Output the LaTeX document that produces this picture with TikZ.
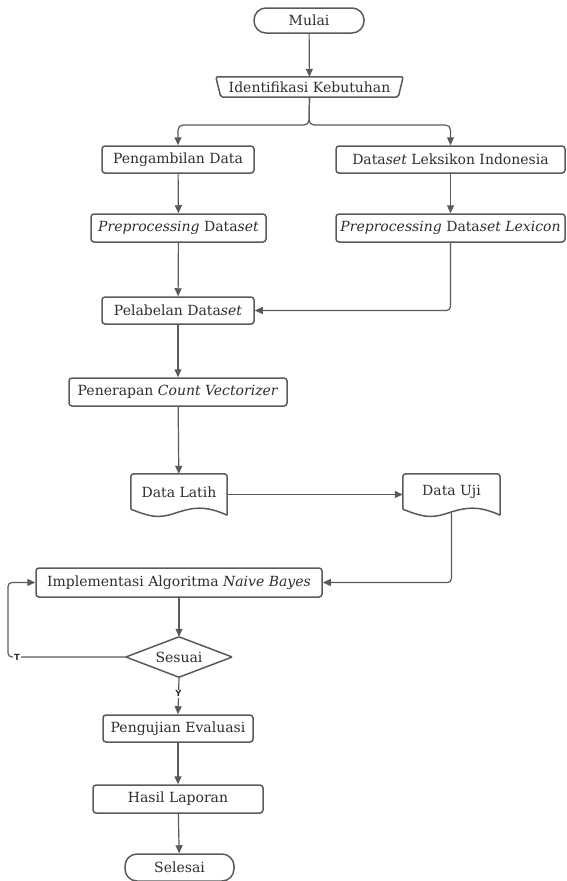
\documentclass[tikz,border=0pt]{standalone}
\usepackage{fontspec}
\setmainfont{DejaVu Serif}
\newfontfamily\labfont{DejaVu Sans}
\usetikzlibrary{arrows.meta,calc}
\definecolor{ln}{HTML}{5A5A5A}
\definecolor{tx}{HTML}{2E2E2E}
\tikzset{
  box/.style={draw=ln, line width=1.5pt, rounded corners=3pt, inner sep=0pt, text=tx, font=\fontsize{14}{16}\selectfont},
  ghost/.style={inner sep=0pt, text=tx, font=\fontsize{14}{16}\selectfont},
  term/.style={draw=ln, line width=1.5pt, rounded corners=12pt, inner sep=0pt, text=tx, font=\fontsize{14}{16}\selectfont},
  arr/.style={draw=ln, line width=1.2pt, -{Triangle[length=8pt,width=7pt]}},
  shp/.style={draw=ln, line width=1.5pt},
  lab/.style={fill=white, inner sep=1pt, text=tx, font=\labfont\bfseries\fontsize{8.5}{9}\selectfont},
}
\begin{document}
\begin{tikzpicture}[x=1pt,y=-1pt]
\useasboundingbox (0,0) rectangle (566,881);
% nodes
\node[term, minimum width=110pt, minimum height=25pt] (mulai) at (309,20.5) {Mulai};
\node[ghost, minimum width=187pt, minimum height=20pt] (ident) at (309.5,87) {Identifikasi Kebutuhan};
\draw[shp, rounded corners=2pt] (ident.north west) -- (ident.north east) -- ($(ident.south east)+(-5,0)$) -- ($(ident.south west)+(5,0)$) -- cycle;
\node[box, minimum width=152pt, minimum height=27pt] (peng) at (178,159.5) {Pengambilan Data};
\node[box, minimum width=229pt, minimum height=27pt] (dlex) at (450.5,159.5) {Data\textit{set} Leksikon Indonesia};
\node[box, minimum width=175pt, minimum height=28pt] (prep) at (178.5,228) {\textit{Preprocessing} Data\textit{set}};
\node[box, minimum width=229pt, minimum height=28pt] (preplex) at (450.5,228) {\textit{Preprocessing} Data\textit{set Lexicon}};
\node[box, minimum width=152pt, minimum height=27pt] (label) at (178,310.5) {Pelabelan Data\textit{set}};
\node[box, minimum width=218pt, minimum height=28pt] (count) at (178,392) {Penerapan \textit{Count Vectorizer}};
% documents
\node[ghost, minimum width=96pt, minimum height=41pt] (latih) at (179,494.5) {};
\node[ghost] at (179,492) {Data Latih};
\draw[shp, rounded corners=3pt] ($(latih.south west)+(0,-6)$) -- (latih.north west) -- (latih.north east) -- (latih.south east);
\draw[shp] ($(latih.south west)+(0,-6)$) .. controls +(18,7) and +(-18,6) .. ($(latih.south)+(-4,-2)$) .. controls +(18,-6) and +(-22,-10) .. (latih.south east);
\node[ghost, minimum width=97pt, minimum height=41pt] (uji) at (451.5,494.5) {};
\node[ghost] at (451.5,492) {Data Uji};
\draw[shp, rounded corners=3pt] ($(uji.south west)+(0,-6)$) -- (uji.north west) -- (uji.north east) -- (uji.south east);
\draw[shp] ($(uji.south west)+(0,-6)$) .. controls +(18,7) and +(-18,6) .. ($(uji.south)+(-4,-2)$) .. controls +(18,-6) and +(-22,-10) .. (uji.south east);
\node[box, minimum width=286pt, minimum height=29pt] (impl) at (179,582.5) {Implementasi Algoritma \textit{Naive Bayes}};
\node[ghost, minimum width=106pt, minimum height=40pt] (ses) at (179,657) {Sesuai};
\draw[shp, rounded corners=1pt] (ses.north) -- (ses.east) -- (ses.south) -- (ses.west) -- cycle;
\node[box, minimum width=150pt, minimum height=27pt] (uji2) at (178,728.5) {Pengujian Evaluasi};
\node[box, minimum width=170pt, minimum height=28pt] (hasil) at (178,799) {Hasil Laporan};
\node[term, minimum width=109pt, minimum height=27pt] (selesai) at (179.5,867.5) {Selesai};
% connectors
\coordinate (br) at (309,125);
\draw[arr] (mulai) -- (ident);
\draw[arr, rounded corners=5pt] (ident.south) -- (br) -| (peng.north);
\draw[arr, rounded corners=5pt] (ident.south) -- (br) -| (dlex.north);
\draw[arr] (peng) -- (prep);
\draw[arr] (dlex) -- (preplex);
\draw[arr] (prep) -- (label);
\draw[arr, rounded corners=4pt] (preplex.south) |- (label.east);
\draw[arr] (label) -- (count);
\draw[arr] (count) -- (latih);
\draw[arr] (latih.east) -- (uji.west);
\draw[arr, rounded corners=4pt] ($(uji.south)+(0,-2)$) |- (impl.east);
\draw[arr] (impl) -- (ses);
\coordinate (lp) at (8,657);
\draw[arr, rounded corners=4pt] (ses.west) -- (lp) |- (impl.west);
\node[lab] (tl) at (17,657) {T};
\draw[arr] (ses.south) -- node[lab, pos=0.45] {Y} (uji2.north);
\draw[arr] (uji2) -- (hasil);
\draw[arr] (hasil) -- (selesai);
\end{tikzpicture}
\end{document}
